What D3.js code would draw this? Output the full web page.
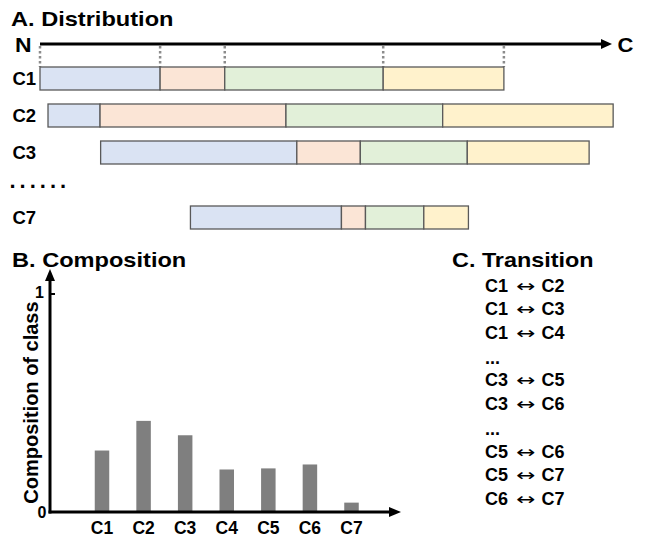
<!DOCTYPE html>
<html>
<head>
<meta charset="utf-8">
<script src="https://cdn.jsdelivr.net/npm/d3@7"></script>
<style>
html,body{margin:0;padding:0;background:#fff;}
svg{display:block;font-family:"Liberation Sans",Arial,sans-serif;}
</style>
</head>
<body>
<svg id="chart" width="645" height="546"></svg>
<script>
// ---------- DATA ----------
// A. Distribution: segment boundaries along the N -> C axis (0..100 units)
const distClasses = ["C1", "C2", "C3", "C7"];
const boundsC1 = [0, 21.0, 32.3, 60.0, 81.1];
const boundsC2 = [1.4, 10.5, 43.0, 70.4, 100.2];
const boundsC3 = [10.6, 44.9, 56.0, 74.7, 96.0];
const boundsC7 = [26.3, 52.7, 56.9, 67.1, 74.9];
const segmentNames = ["s1", "s2", "s3", "s4"];
const segmentColors = ["#dae3f3", "#fbe5d6", "#e2f0d9", "#fff2cc"];

// B. Composition
const compClasses = ["C1", "C2", "C3", "C4", "C5", "C6", "C7"];
const compValues = [0.282, 0.418, 0.352, 0.195, 0.200, 0.218, 0.043];
const compTicks = [0, 1];

// C. Transition (pairs; null = ellipsis line)
const transitionFrom = ["C1", "C1", "C1", null, "C3", "C3", null, "C5", "C5", "C6"];
const transitionTo   = ["C2", "C3", "C4", null, "C5", "C6", null, "C6", "C7", "C7"];

// ---------- DRAW ----------
const svg = d3.select("#chart");

function title(x, y, txt, sx) {
  svg.append("text")
    .attr("transform", `translate(${x},${y}) scale(${sx},1)`)
    .attr("font-size", 20).attr("font-weight", "bold").attr("fill", "#000")
    .text(txt);
}

// Titles
title(11, 26, "A. Distribution", 1.18);
title(12, 266.5, "B. Composition", 1.18);
title(452, 267, "C. Transition", 1.17);

// ---- A. Distribution ----
const xD = d3.scaleLinear().domain([0, 100]).range([40, 612]);
const rowY = d3.scaleOrdinal().domain(distClasses).range([67, 104, 141, 206]);
const barH = 23;
const axisY = 44;
const allBounds = [boundsC1, boundsC2, boundsC3, boundsC7];

// axis N -> C
svg.append("line").attr("x1", xD(0)).attr("x2", xD(100) - 8)
  .attr("y1", axisY).attr("y2", axisY).attr("stroke", "#000").attr("stroke-width", 3);
svg.append("path")
  .attr("d", `M${xD(100)},${axisY} L${xD(100) - 11},${axisY - 5} L${xD(100) - 11},${axisY + 5} Z`)
  .attr("fill", "#000");
svg.append("text").attr("transform", `translate(15,51.5) scale(1.15,1)`)
  .attr("font-size", 20).attr("font-weight", "bold").text("N");
svg.append("text").attr("transform", `translate(617.5,52) scale(1.1,1)`)
  .attr("font-size", 20).attr("font-weight", "bold").text("C");

// dotted guides from C1 boundaries
svg.selectAll("line.guide").data(boundsC1).enter().append("line")
  .attr("class", "guide")
  .attr("x1", d => xD(d)).attr("x2", d => xD(d))
  .attr("y1", axisY + 2).attr("y2", rowY("C1"))
  .attr("stroke", "#8c8c8c").attr("stroke-width", 2.5)
  .attr("stroke-dasharray", "2.5,2.5");

// segment bars
distClasses.forEach((cls, i) => {
  const b = allBounds[i];
  const segs = segmentNames.map((s, k) => ({ k, x0: b[k], x1: b[k + 1] }));
  const g = svg.append("g");
  g.selectAll("rect").data(segs).enter().append("rect")
    .attr("x", d => xD(d.x0)).attr("y", rowY(cls))
    .attr("width", d => xD(d.x1) - xD(d.x0)).attr("height", barH)
    .attr("fill", d => segmentColors[d.k])
    .attr("stroke", "#595959").attr("stroke-width", 1.3);
  svg.append("text").attr("x", 12.5).attr("y", rowY(cls) + 18)
    .attr("font-size", 18.5).attr("font-weight", "bold").text(cls);
});
// ellipsis row
svg.append("text").attr("x", 9.5).attr("y", 188)
  .attr("font-size", 22).attr("font-weight", "bold")
  .attr("letter-spacing", 4).text("......");

// ---- B. Composition ----
const xB = d3.scalePoint().domain(compClasses).range([102, 351.5]);
const yB = d3.scaleLinear().domain([0, 1]).range([512, 294]);
const axX = 50;
const bw = 14.5;

svg.selectAll("rect.comp").data(compClasses).enter().append("rect")
  .attr("class", "comp")
  .attr("x", d => xB(d) - bw / 2)
  .attr("y", (d, i) => yB(compValues[i]))
  .attr("width", bw)
  .attr("height", (d, i) => yB(0) - yB(compValues[i]))
  .attr("fill", "#7f7f7f");

// y axis with arrow
svg.append("line").attr("x1", axX).attr("x2", axX)
  .attr("y1", yB(0) + 1.5).attr("y2", 278)
  .attr("stroke", "#000").attr("stroke-width", 3);
svg.append("path")
  .attr("d", `M${axX},269 L${axX - 5},281 L${axX + 5},281 Z`).attr("fill", "#000");
// x axis with arrow
svg.append("line").attr("x1", axX - 1.5).attr("x2", 392)
  .attr("y1", yB(0)).attr("y2", yB(0))
  .attr("stroke", "#000").attr("stroke-width", 3);
svg.append("path")
  .attr("d", `M401,${yB(0)} L389,${yB(0) - 5} L389,${yB(0) + 5} Z`).attr("fill", "#000");

// y ticks
svg.append("line").attr("x1", axX).attr("x2", axX + 5)
  .attr("y1", yB(1)).attr("y2", yB(1)).attr("stroke", "#000").attr("stroke-width", 2);
svg.selectAll("text.ytick").data(compTicks).enter().append("text")
  .attr("class", "ytick")
  .attr("x", d => d === 0 ? 46.5 : 44)
  .attr("y", d => yB(d) + (d === 0 ? 5.5 : 4))
  .attr("text-anchor", "end")
  .attr("font-size", 16).attr("font-weight", "bold").text(d => d);

// x labels
svg.selectAll("text.xlab").data(compClasses).enter().append("text")
  .attr("class", "xlab")
  .attr("x", d => xB(d)).attr("y", 533.5)
  .attr("text-anchor", "middle")
  .attr("font-size", 17.5).attr("font-weight", "bold").text(d => d);

// y label
svg.append("text")
  .attr("transform", "translate(37.5,402.5) rotate(-90)")
  .attr("text-anchor", "middle")
  .attr("font-size", 20).attr("font-weight", "bold")
  .text("Composition of class");

// ---- C. Transition ----
const yT = d3.scalePoint().domain(d3.range(transitionFrom.length)).range([291.5, 505]);
transitionFrom.forEach((from, i) => {
  const y = yT(i);
  if (from === null) {
    svg.append("text").attr("x", 485).attr("y", y + 1)
      .attr("font-size", 18).attr("font-weight", "bold").text("...");
    return;
  }
  svg.append("text").attr("x", 485).attr("y", y)
    .attr("font-size", 18).attr("font-weight", "bold").text(from);
  svg.append("text").attr("transform", `translate(516,${y}) scale(1.35,1)`)
    .attr("font-family", '"DejaVu Sans", sans-serif')
    .attr("font-size", 17).text("\u2194");
  svg.append("text").attr("x", 541.5).attr("y", y)
    .attr("font-size", 18).attr("font-weight", "bold").text(transitionTo[i]);
});
</script>
</body>
</html>
